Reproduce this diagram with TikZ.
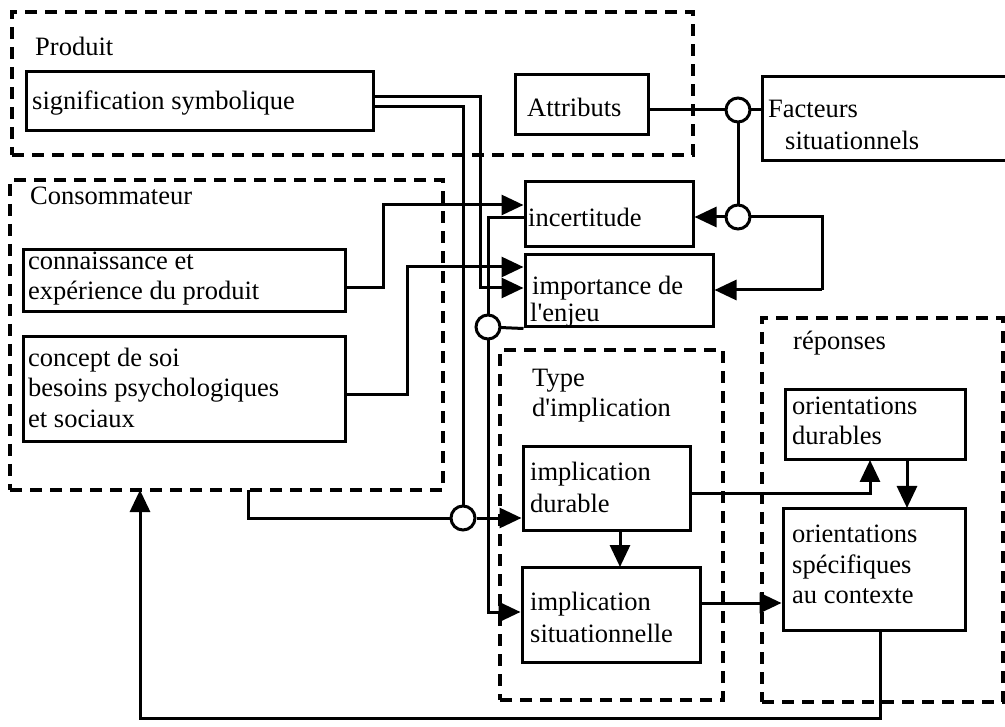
\documentclass[tikz,border=0pt]{standalone}
\usepackage{fontspec}
\setmainfont{Liberation Serif}
\usetikzlibrary{arrows.meta,calc}
\begin{document}
\begin{tikzpicture}[x=1pt,y=-1pt,
  every node/.style={font=\fontsize{26.5}{30}\selectfont},
  box/.style={draw,line width=3pt,rectangle,inner sep=0pt},
  group/.style={draw,line width=3.2pt,dash pattern=on 12pt off 8pt,rectangle,inner sep=0pt},
  lbl/.style={anchor=base west,inner sep=0pt},
  junction/.style={draw,circle,line width=3pt,minimum size=24pt,inner sep=0pt,fill=white},
  wire/.style={line width=3pt},
  arr/.style={line width=3pt,-{Triangle[length=22pt,width=20pt]}}]
\useasboundingbox (0,0) rectangle (1005,727);
% dashed groups
\node[group,minimum width=681pt,minimum height=143pt] (produit) at (352.5,83.5) {};
\node[group,minimum width=433pt,minimum height=310pt] (conso) at (226.5,335) {};
\node[group,minimum width=223pt,minimum height=350pt] (type) at (611.5,525) {};
\node[group,minimum width=241pt,minimum height=384pt] (rep) at (882.5,510) {};
% boxes
\node[box,minimum width=347pt,minimum height=59pt] (sig) at (199.5,101.5) {};
\node[box,minimum width=133pt,minimum height=60pt] (attr) at (581.5,105) {};
\node[minimum width=242pt,minimum height=83pt,inner sep=0pt] (fact) at (884,118.5) {};
\draw[line width=3pt] (fact.north east) -- (fact.north west) -- (fact.south west) -- (fact.south east);
\node[box,minimum width=168pt,minimum height=65pt] (incert) at (609,214.5) {};
\node[box,minimum width=188pt,minimum height=72pt] (import) at (619,291) {};
\node[box,minimum width=322pt,minimum height=62pt] (conn) at (184,281) {};
\node[box,minimum width=322pt,minimum height=105pt] (concept) at (184,389.5) {};
\node[box,minimum width=167pt,minimum height=83pt] (impdur) at (606.5,488.5) {};
\node[box,minimum width=178pt,minimum height=95pt] (impsit) at (611,614.5) {};
\node[box,minimum width=180pt,minimum height=70pt] (oridur) at (875,425) {};
\node[box,minimum width=182pt,minimum height=122pt] (orispec) at (874,569) {};
% labels
\node[lbl] (tprod) at (35,56) {Produit};
\node[lbl] (tsig) at (32,110) {signification symbolique};
\node[lbl] (tcons) at (30,205) {Consommateur};
\node[lbl] (tattr) at (527,117) {Attributs};
\node[lbl] (tfac1) at (768,118) {Facteurs};
\node[lbl] (tfac2) at (785,150) {situationnels};
\node[lbl] (tinc) at (528,227) {incertitude};
\node[lbl] (timp1) at (532,295) {importance de};
\node[lbl] (timp2) at (530,322) {l\textquotesingle enjeu};
\node[lbl] (tconn1) at (28,270) {connaissance et};
\node[lbl] (tconn2) at (28,300) {expérience du produit};
\node[lbl] (tcon1) at (28,367) {concept de soi};
\node[lbl] (tcon2) at (28,397) {besoins psychologiques};
\node[lbl] (tcon3) at (28,428) {et sociaux};
\node[lbl] (trep) at (793,350) {réponses};
\node[lbl] (ttype1) at (532,387) {Type};
\node[lbl] (ttype2) at (532,417) {d\textquotesingle implication};
\node[lbl] (tod1) at (792,415) {orientations};
\node[lbl] (tod2) at (792,445) {durables};
\node[lbl] (tid1) at (530,480) {implication};
\node[lbl] (tid2) at (530,512) {durable};
\node[lbl] (tos1) at (792,542) {orientations};
\node[lbl] (tos2) at (792,573) {spécifiques};
\node[lbl] (tos3) at (792,603) {au contexte};
\node[lbl] (tis1) at (530,610) {implication};
\node[lbl] (tis2) at (530,642) {situationnelle};
% junction positions
\coordinate (c1p) at (738,110);
\coordinate (c2p) at (738,217);
\coordinate (c3p) at (488,327);
\coordinate (c4p) at (463,518);
% connectors (wires first, junctions drawn over)
\draw[wire] (attr.east |- c1p) -- (c1p);
\draw[wire] (fact.west |- c1p) -- (c1p);
\draw[wire] (c1p) -- (c2p);
\draw[wire] (c2p) -- (822,217) -- (822,290);
\draw[arr] (822,290) -- (import.east |- 0,290);
\draw[arr] (conn.east |- 0,288) -- (383,288) -- (383,205) -- (incert.west |- 0,205);
\draw[arr] (concept.east |- 0,395) -- (407,395) -- (407,267) -- (import.west |- 0,267);
\draw[arr] (sig.east |- 0,97) -- (480,97) -- (480,288) -- (import.west |- 0,288);
\draw[wire] (sig.east |- 0,107) -- (463,107) -- (c4p);
\draw[wire] (incert.west |- 0,218) -- (488,218) -- (c3p);
\draw[wire] (import.south west) -- (c3p);
\draw[arr] (c3p) -- (488,612) -- (impsit.west |- 0,612);
\draw[wire] (248,490) -- (248,518) -- (c4p);
\node[junction] (c1) at (c1p) {};
\node[junction] (c2) at (c2p) {};
\node[junction] (c3) at (c3p) {};
\node[junction] (c4) at (c4p) {};
\draw[arr] (c2.west) -- (incert.east |- c2p);
\draw[arr] (c4.east) -- (impdur.west |- c4p);
\draw[arr] (impdur.east |- 0,493) -- (870,493) -- (870 ,460);
\draw[arr] (907,460) -- (907,508);
\draw[arr] (620,530) -- (620,567);
\draw[arr] (impsit.east |- 0,603) -- (orispec.west |- 0,603);
\draw[arr] (880,630) -- (880,718) -- (140,718) -- (140,490);
\end{tikzpicture}
\end{document}
